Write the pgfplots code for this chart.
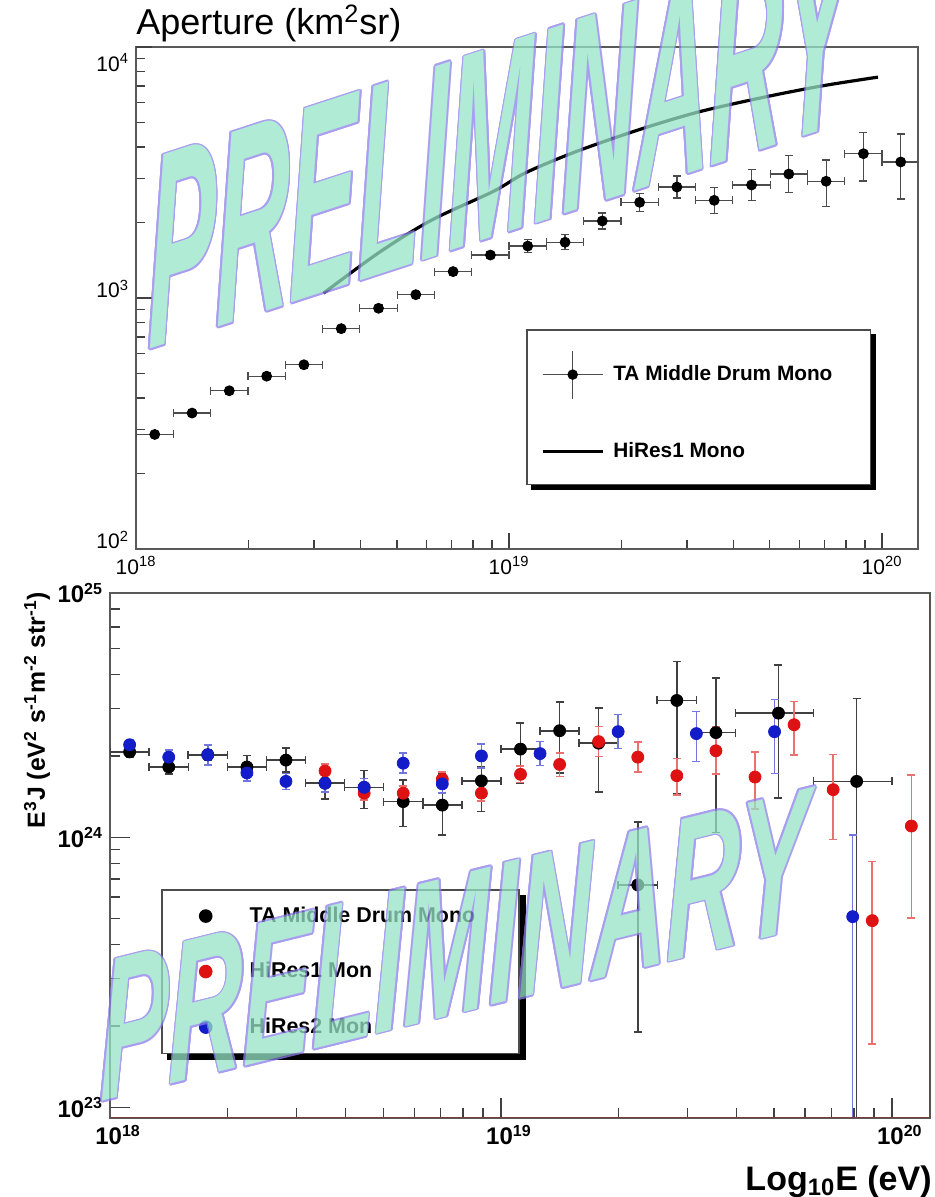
\documentclass[border=0pt]{standalone}
\usepackage{fontspec}
\setmainfont{Liberation Sans}
\usepackage{pgfplots}
\usepackage{pgfplotstable}
\pgfplotsset{compat=1.18}

\definecolor{wmfill}{RGB}{150,228,200}
\definecolor{wmline}{RGB}{140,125,235}
\definecolor{rred}{RGB}{222,18,18}
\definecolor{rblue}{RGB}{18,28,200}
\definecolor{fbrown}{RGB}{125,62,62}

% Aperture, TA Middle Drum mono
\pgfplotstableread{
x y xp xm yp ym
1.122e18 286 0.122 0.109 0.03 0.03
1.413e18 348 0.122 0.109 0.03 0.03
1.778e18 427 0.122 0.109 0.03 0.03
2.239e18 488 0.122 0.109 0.03 0.03
2.818e18 542 0.122 0.109 0.03 0.03
3.548e18 755 0.122 0.109 0.03 0.03
4.467e18 910 0.122 0.109 0.03 0.03
5.623e18 1031 0.122 0.109 0.03 0.03
7.079e18 1274 0.122 0.109 0.03 0.03
8.913e18 1483 0.122 0.109 0.03 0.03
1.122e19 1610 0.122 0.109 0.063 0.059
1.413e19 1667 0.122 0.109 0.071 0.066
1.778e19 2027 0.122 0.109 0.076 0.071
2.239e19 2405 0.122 0.109 0.086 0.079
2.818e19 2767 0.122 0.109 0.106 0.096
3.548e19 2449 0.122 0.109 0.127 0.112
4.467e19 2819 0.122 0.109 0.153 0.132
5.623e19 3118 0.122 0.109 0.187 0.158
7.079e19 2918 0.122 0.109 0.216 0.205
8.913e19 3758 0.122 0.109 0.216 0.222
1.122e20 3483 0.122 0.109 0.293 0.288
}\aperTA

% E^3 J spectra
\pgfplotstableread{
x y xp xm yp ym
1.122e18 2.07e24 0.122 0.109 0.043 0.042
1.413e18 1.82e24 0.122 0.109 0.061 0.058
1.778e18 2.02e24 0.122 0.109 0.043 0.042
2.239e18 1.82e24 0.122 0.109 0.105 0.068
2.818e18 1.93e24 0.122 0.109 0.108 0.097
3.548e18 1.585e24 0.122 0.109 0.071 0.128
4.467e18 1.53e24 0.122 0.109 0.153 0.164
5.623e18 1.355e24 0.122 0.109 0.203 0.192
7.079e18 1.315e24 0.122 0.109 0.314 0.226
8.913e18 1.617e24 0.122 0.109 0.127 0.230
1.122e19 2.12e24 0.122 0.109 0.248 0.252
1.413e19 2.48e24 0.122 0.109 0.280 0.301
1.778e19 2.23e24 0.122 0.109 0.348 0.342
2.239e19 6.66e23 0.122 0.109 0.711 0.715
2.818e19 3.21e24 0.122 0.109 0.394 0.547
3.548e19 2.44e24 0.122 0.109 0.590 0.574
5.129e19 2.88e24 0.230 0.224 0.510 0.516
8.128e19 1.61e24 0.230 0.224 1.030 0.99
}\specTA

\pgfplotstableread{
x y yp ym
3.548e18 1.76e24 0.061 0.058
4.467e18 1.456e24 0.061 0.058
5.623e18 1.456e24 0.061 0.058
7.079e18 1.64e24 0.061 0.058
8.913e18 1.456e24 0.071 0.066
1.122e19 1.71e24 0.071 0.066
1.413e19 1.86e24 0.105 0.097
1.778e19 2.26e24 0.137 0.120
2.239e19 1.98e24 0.137 0.120
2.818e19 1.69e24 0.156 0.150
3.548e19 2.09e24 0.227 0.178
4.467e19 1.67e24 0.238 0.239
5.623e19 2.61e24 0.217 0.226
7.079e19 1.50e24 0.348 0.347
8.913e19 4.91e23 0.654 0.650
1.122e20 1.10e24 0.545 0.544
}\specHRone

\pgfplotstableread{
x y yp ym
1.122e18 2.20e24 0.043 0.042
1.413e18 1.98e24 0.061 0.058
1.778e18 2.02e24 0.089 0.082
2.239e18 1.73e24 0.071 0.066
2.818e18 1.61e24 0.071 0.066
3.548e18 1.585e24 0.080 0.074
4.467e18 1.53e24 0.080 0.074
5.623e18 1.88e24 0.089 0.082
7.079e18 1.576e24 0.080 0.074
8.913e18 2.00e24 0.108 0.097
1.259e19 2.04e24 0.108 0.097
1.995e19 2.46e24 0.156 0.134
3.162e19 2.42e24 0.206 0.212
5.012e19 2.46e24 0.314 0.301
7.943e19 5.08e23 1.007 0.99
}\specHRtwo

\newcommand{\wmtext}[5]{%
  \begin{scope}[transparency group, opacity=0.75]
  \foreach \wa in {0,30,...,330}{%
    \begin{scope}[shift={(#1,#2)}, shift={(\wa:0.85pt)}]
      \node[text=wmline, anchor=base west, inner sep=0pt,
        font=\fontsize{#3}{#3}\selectfont\bfseries\itshape,
        yslant=#5, xscale=#4] at (0,0) {PRELIMINARY};
    \end{scope}}
  \begin{scope}[shift={(#1,#2)}]
    \node[text=wmfill, anchor=base west, inner sep=0pt,
      font=\fontsize{#3}{#3}\selectfont\bfseries\itshape,
      yslant=#5, xscale=#4] at (0,0) {PRELIMINARY};
  \end{scope}
  \end{scope}}

% L-shaped drop shadow on the right and bottom of a named node
\newcommand{\lshadow}[2]{%
  \fill[black] ([xshift=0pt,yshift=-#2]#1.north east) rectangle ([xshift=#2,yshift=-#2]#1.south east);
  \fill[black] ([xshift=#2,yshift=0pt]#1.south west) rectangle ([xshift=#2,yshift=-#2]#1.south east);}

\begin{document}
\begin{tikzpicture}
\path[use as bounding box] (0pt,0pt) rectangle (467.5pt,-598.5pt);

\node[anchor=base west, inner sep=0pt, font=\fontsize{18}{20}\selectfont]
  at (68pt,-17.5pt) {Aperture (km\textsuperscript{2}sr)};

% ---------------- top panel ----------------
\begin{axis}[
  at={(68pt,-274.5pt)}, anchor=south west,
  scale only axis, width=391pt, height=251pt,
  xmode=log, ymode=log,
  xmin=1e18, xmax=1.249e20, ymin=100, ymax=10000,
  xtick={1e18,1e19,1e20},
  xticklabels={10\textsuperscript{18},10\textsuperscript{19},10\textsuperscript{20}},
  minor xtick={2e18,3e18,4e18,5e18,6e18,7e18,8e18,9e18,2e19,3e19,4e19,5e19,6e19,7e19,8e19,9e19},
  ytick={100,1000},
  yticklabels={10\textsuperscript{2},10\textsuperscript{3}},
  minor ytick={200,300,400,500,600,700,800,900,2000,3000,4000,5000,6000,7000,8000,9000},
  extra y ticks={10000},
  extra y tick labels={10\textsuperscript{4}},
  extra y tick style={yticklabel style={yshift=-12.5pt}},
  yticklabel style={yshift=4.5pt},
  tick pos=left, tick align=inside,
  major tick length=8pt, minor tick length=4.5pt,
  axis line style={draw=black!65, line width=0.9pt},
  every tick/.style={black!75, line width=0.7pt},
  tick label style={font=\fontsize{10.5}{12}\selectfont},
  legend cell align=left,
  legend style={name=legTop, at={(0.499,0.438)}, anchor=north west, draw=black!70,
    line width=0.8pt, fill=white, inner xsep=7pt, inner ysep=10pt,
    row sep=19.5pt, column sep=2.5pt,
    font=\bfseries\fontsize{10.4}{12}\selectfont},
]
\addplot[only marks, mark=*, mark size=2.5pt, black,
  legend image code/.code={
    \draw[black!70, line width=0.7pt] (0pt,0pt) -- (30pt,0pt);
    \draw[black!70, line width=0.7pt] (15pt,-12pt) -- (15pt,12pt);
    \fill[black] (15pt,0pt) circle (2.2pt);},
  error bars/.cd, x dir=both, x explicit relative, y dir=both, y explicit relative,
  error bar style={black!70, line width=0.6pt},
  error mark options={rotate=90, black!70, mark size=2pt, line width=0.6pt}]
  table[x=x, y=y, x error plus=xp, x error minus=xm, y error plus=yp, y error minus=ym] {\aperTA};
\addlegendentry{TA Middle Drum Mono\hspace*{10pt}}
\addplot[black, line width=1.6pt, smooth,
  legend image code/.code={\draw[black, line width=1.6pt] (0pt,0pt) -- (30pt,0pt);}]
  coordinates {
  (3.18e18,1045) (4.51e18,1528) (6.21e18,2046) (9.08e18,2660) (1.104e19,3148)
  (1.503e19,3818) (2.218e19,4670) (3.214e19,5506) (4.853e19,6320)
  (6.902e19,6998) (9.75e19,7586)};
\addlegendentry{HiRes1 Mono}
\end{axis}
\lshadow{legTop}{2.6pt}

\fill[white] (0pt,-288.5pt) rectangle (467.5pt,-598.5pt);

% ---------------- bottom panel ----------------
\begin{axis}[
  at={(55pt,-559pt)}, anchor=south west,
  scale only axis, width=410pt, height=262.5pt,
  xmode=log, ymode=log,
  xmin=1e18, xmax=1.253e20, ymin=9.13e22, ymax=8.03e24,
  xtick={1e18,1e19,1e20},
  xticklabels={10\textsuperscript{18},10\textsuperscript{19},10\textsuperscript{20}},
  minor xtick={2e18,3e18,4e18,5e18,6e18,7e18,8e18,9e18,2e19,3e19,4e19,5e19,6e19,7e19,8e19,9e19},
  ytick={1e23,1e24},
  yticklabels={10\textsuperscript{23},10\textsuperscript{24}},
  minor ytick={2e23,3e23,4e23,5e23,6e23,7e23,8e23,9e23,2e24,3e24,4e24,5e24,6e24,7e24},
  extra y ticks={8.03e24},
  extra y tick labels={10\textsuperscript{25}},
  extra y tick style={major tick length=0pt},
  tick pos=left, tick align=inside,
  major tick length=10pt, minor tick length=5pt,
  axis line style={draw=black!65, line width=0.9pt},
  every tick/.style={black!75, line width=0.7pt},
  tick label style={font=\bfseries\fontsize{12}{14}\selectfont},
  xticklabel style={xshift=4pt},
  legend cell align=left,
  legend style={name=legBot, at={(0.062,0.436)}, anchor=north west, draw=black!70,
    line width=0.8pt, fill=white, inner xsep=19pt, inner ysep=6.5pt,
    row sep=14.5pt, column sep=17pt,
    font=\bfseries\fontsize{10.7}{12}\selectfont},
]
\addplot[only marks, mark=*, mark size=3pt, black,
  error bars/.cd, x dir=both, x explicit relative, y dir=both, y explicit relative,
  error bar style={black!75, line width=0.8pt},
  error mark options={rotate=90, black!75, mark size=2pt, line width=0.8pt}]
  table[x=x, y=y, x error plus=xp, x error minus=xm, y error plus=yp, y error minus=ym] {\specTA};
\addlegendentry{TA Middle Drum Mono\hspace*{1pt}}
\addplot[only marks, mark=*, mark size=3pt, rred,
  error bars/.cd, y dir=both, y explicit relative,
  error bar style={rred!60, line width=0.8pt},
  error mark options={rotate=90, rred!60, mark size=2pt, line width=0.8pt}]
  table[x=x, y=y, y error plus=yp, y error minus=ym] {\specHRone};
\addlegendentry{HiRes1 Mon}
\addplot[only marks, mark=*, mark size=3pt, rblue,
  error bars/.cd, y dir=both, y explicit relative,
  error bar style={rblue!60, line width=0.8pt},
  error mark options={rotate=90, rblue!60, mark size=2pt, line width=0.8pt}]
  table[x=x, y=y, y error plus=yp, y error minus=ym] {\specHRtwo};
\addlegendentry{HiRes2 Mon}
\draw[fbrown, line width=1pt] (rel axis cs:0,0) -- (rel axis cs:1,0) -- (rel axis cs:1,1);
\end{axis}
\lshadow{legBot}{3pt}

\node[rotate=90, inner sep=0pt, font=\bfseries\fontsize{12.4}{14}\selectfont]
  at (18.5pt,-355pt) {E\textsuperscript{3}J (eV\textsuperscript{2} s\textsuperscript{-1}m\textsuperscript{-2} str\textsuperscript{-1})};
\node[anchor=base east, inner sep=0pt, font=\bfseries\fontsize{17}{20}\selectfont]
  at (466pt,-595pt) {Log\textsubscript{10}E (eV)};

\wmtext{74pt}{-175pt}{138}{0.37}{0.326}
\wmtext{50pt}{-551pt}{101}{0.51}{0.247}
\end{tikzpicture}
\end{document}
